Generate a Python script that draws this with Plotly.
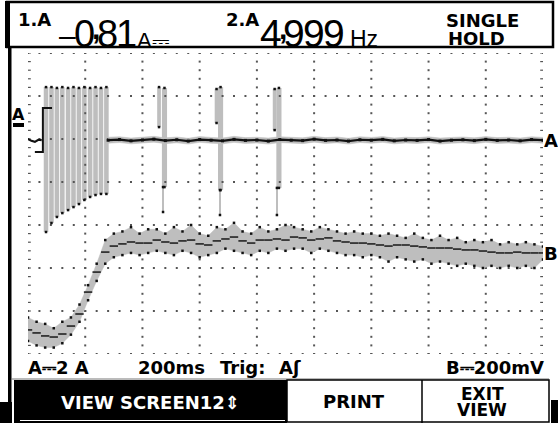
import plotly.graph_objects as go

# ---------------- data ----------------
# time base 200 ms/div, 9 divisions shown
T_MAX = 1800
# Channel A (current, 2 A/div) -- baseline after the burst
a_t = [280 + 40 * k for k in range(39)]
a_mid = [-0.80, -0.77, -0.83, -0.79, -0.75, -0.82, -0.78, -0.84, -0.77, -0.80,
         -0.83, -0.76, -0.81, -0.79, -0.84, -0.77, -0.80, -0.82, -0.75, -0.81,
         -0.79, -0.84, -0.78, -0.80, -0.76, -0.83, -0.79, -0.81, -0.77, -0.84,
         -0.80, -0.78, -0.82, -0.76, -0.81, -0.79, -0.83, -0.77, -0.80]
a_hi = [-0.66, -0.64, -0.70, -0.66, -0.62, -0.69, -0.65, -0.71, -0.63, -0.67,
        -0.70, -0.62, -0.68, -0.66, -0.70, -0.64, -0.67, -0.69, -0.62, -0.68,
        -0.65, -0.71, -0.64, -0.67, -0.63, -0.70, -0.66, -0.68, -0.64, -0.70,
        -0.67, -0.65, -0.69, -0.63, -0.68, -0.66, -0.70, -0.64, -0.67]
a_lo = [-0.94, -0.91, -0.97, -0.92, -0.89, -0.96, -0.92, -0.98, -0.90, -0.94,
        -0.97, -0.90, -0.95, -0.93, -0.98, -0.91, -0.94, -0.96, -0.89, -0.95,
        -0.92, -0.98, -0.91, -0.94, -0.90, -0.97, -0.93, -0.95, -0.91, -0.98,
        -0.94, -0.92, -0.96, -0.90, -0.95, -0.93, -0.97, -0.91, -0.94]
# Channel A before the trigger
a_pre_t = [0, 12, 24, 36, 48]
a_pre = [-0.74, -0.83, -0.88, -0.78, -0.80]
# trigger bracket (ms, A)
trig_t = [24, 52, 52, 84]
trig_a = [-1.35, -1.35, 0.70, 0.70]
# Channel A spikes: centre time (ms), top (A), bottom (A), width (ms)
spk_t = [63, 82, 101, 120, 140, 159, 178, 197, 217, 236, 255, 274,
         458, 477, 472,
         659, 673, 671,
         862, 877, 870]
spk_top = [1.67, 1.67, 1.63, 1.67, 1.63, 1.67, 1.63, 1.67, 1.63, 1.67, 1.63, 1.67,
           1.67, 1.63, -2.98,
           1.58, 1.67, -3.12,
           1.58, 1.63, -3.02]
spk_bot = [-5.07, -4.65, -4.37, -4.19, -4.05, -3.91, -3.77, -3.58, -3.44, -3.35, -3.30, -3.30,
           -0.19, -2.98, -4.14,
           0.00, -3.12, -4.28,
           -0.33, -3.02, -4.28]
spk_w = [16, 16, 16, 16, 16, 16, 16, 16, 16, 16, 16, 16,
         13, 18, 4,
         13, 18, 4,
         13, 18, 4]

# Channel B (200 mV/div), every 30 ms
b_t = [30 * k for k in range(61)]
b_mid = [0.112, 0.098, 0.084, 0.079, 0.093, 0.130, 0.186, 0.288, 0.381, 0.474,
         0.502, 0.512, 0.521, 0.516, 0.516, 0.530, 0.521, 0.516, 0.526, 0.530,
         0.512, 0.507, 0.526, 0.535, 0.544, 0.526, 0.516, 0.530, 0.530, 0.535,
         0.530, 0.544, 0.540, 0.530, 0.535, 0.540, 0.526, 0.521, 0.516, 0.516,
         0.512, 0.507, 0.502, 0.507, 0.507, 0.502, 0.498, 0.493, 0.493, 0.493,
         0.488, 0.484, 0.484, 0.479, 0.474, 0.470, 0.470, 0.474, 0.470, 0.470, 0.470]
b_max = [0.170, 0.150, 0.140, 0.120, 0.150, 0.170, 0.230, 0.320, 0.420, 0.530,
         0.560, 0.570, 0.590, 0.560, 0.580, 0.580, 0.560, 0.590, 0.570, 0.600,
         0.560, 0.550, 0.590, 0.580, 0.610, 0.570, 0.560, 0.590, 0.570, 0.580,
         0.600, 0.590, 0.580, 0.570, 0.590, 0.580, 0.570, 0.560, 0.570, 0.560,
         0.560, 0.550, 0.560, 0.550, 0.540, 0.560, 0.540, 0.530, 0.550, 0.530,
         0.540, 0.520, 0.530, 0.520, 0.530, 0.510, 0.520, 0.510, 0.520, 0.510, 0.500]
b_min = [0.060, 0.040, 0.030, 0.030, 0.050, 0.090, 0.150, 0.250, 0.340, 0.420,
         0.450, 0.460, 0.470, 0.460, 0.470, 0.480, 0.470, 0.460, 0.480, 0.470,
         0.450, 0.460, 0.470, 0.490, 0.480, 0.470, 0.460, 0.480, 0.470, 0.490,
         0.480, 0.490, 0.490, 0.470, 0.490, 0.480, 0.470, 0.460, 0.460, 0.450,
         0.460, 0.450, 0.430, 0.450, 0.440, 0.430, 0.440, 0.420, 0.430, 0.420,
         0.410, 0.420, 0.410, 0.400, 0.410, 0.400, 0.410, 0.400, 0.410, 0.400, 0.440]

# ---------------- scaling to screen divisions ----------------
A_ZERO_DIV = 5.372
A_PER_DIV = 2.0
B_ZERO_DIV = 0.0
B_PER_DIV = 0.2


def a2d(v):
    return None if v is None else A_ZERO_DIV + v / A_PER_DIV


def b2d(v):
    return None if v is None else B_ZERO_DIV + v / B_PER_DIV


n = min(len(b_t), len(b_mid), len(b_max), len(b_min))
b_t, b_mid, b_max, b_min = b_t[:n], b_mid[:n], b_max[:n], b_min[:n]
m = min(len(a_t), len(a_mid), len(a_hi), len(a_lo))
a_t, a_mid, a_hi, a_lo = a_t[:m], a_mid[:m], a_hi[:m], a_lo[:m]

W, H = 558, 423
GRAY = '#bebebe'
INK = '#111111'


def px(x):
    return x / W


def py(y):
    return 1 - y / H


fig = go.Figure()

# ---- graticule dots ----
gx, gy = [], []
for xv in range(200, T_MAX, 200):
    for k in range(36):
        gx.append(xv); gy.append(k / 5)
for yv in range(8):
    for j in range(46):
        gx.append(j * 40); gy.append(yv)
fig.add_trace(go.Scatter(x=gx, y=gy, mode='markers', hoverinfo='skip',
                         marker=dict(symbol='square', size=2, color='#555555', line=dict(width=0))))
ex, ey = [], []
for xv in (0, T_MAX):
    for k in range(36):
        ex.append(xv); ey.append(k / 5)
fig.add_trace(go.Scatter(x=ex, y=ey, mode='markers', hoverinfo='skip',
                         marker=dict(symbol='line-ew', size=4, line=dict(width=1.2, color='#555555'))))

# ---- channel B ----
fig.add_trace(go.Scatter(x=b_t, y=[b2d(v) for v in b_max], mode='lines',
                         line=dict(width=0.5, color=GRAY), hoverinfo='skip'))
fig.add_trace(go.Scatter(x=b_t, y=[b2d(v) for v in b_min], mode='lines', fill='tonexty',
                         fillcolor=GRAY, line=dict(width=0.5, color=GRAY), hoverinfo='skip'))
fig.add_trace(go.Scatter(x=b_t + b_t, y=[b2d(v) for v in b_max] + [b2d(v) for v in b_min],
                         mode='markers', hoverinfo='skip',
                         marker=dict(symbol='square', size=2.5, color=INK, line=dict(width=0))))
fig.add_trace(go.Scatter(x=b_t, y=[b2d(v) for v in b_mid], mode='markers', hoverinfo='skip',
                         marker=dict(symbol='line-ew', size=6, line=dict(width=1.6, color='#222222'))))

# ---- channel A ----
fig.add_trace(go.Bar(x=spk_t, base=[a2d(b) for b in spk_bot],
                     y=[a2d(t) - a2d(b) for t, b in zip(spk_top, spk_bot)],
                     width=spk_w, marker=dict(color=GRAY, line=dict(width=0)), hoverinfo='skip'))
fig.add_trace(go.Scatter(x=spk_t + spk_t, y=[a2d(v) for v in spk_top] + [a2d(v) for v in spk_bot],
                         mode='markers', hoverinfo='skip',
                         marker=dict(symbol='square', size=2.5, color=INK, line=dict(width=0))))
fig.add_trace(go.Scatter(x=a_t, y=[a2d(v) for v in a_hi], mode='lines',
                         line=dict(width=0.5, color=GRAY), hoverinfo='skip'))
fig.add_trace(go.Scatter(x=a_t, y=[a2d(v) for v in a_lo], mode='lines', fill='tonexty',
                         fillcolor=GRAY, line=dict(width=0.5, color=GRAY), hoverinfo='skip'))
fig.add_trace(go.Scatter(x=a_t, y=[a2d(v) for v in a_mid], mode='lines+markers',
                         line=dict(width=2.2, color=INK),
                         marker=dict(symbol='square', size=3, color=INK), hoverinfo='skip'))
fig.add_trace(go.Scatter(x=a_pre_t, y=[a2d(v) for v in a_pre], mode='lines',
                         line=dict(width=2.2, color=INK), hoverinfo='skip'))
fig.add_trace(go.Scatter(x=trig_t, y=[a2d(v) for v in trig_a], mode='lines',
                         line=dict(width=2, color=INK), hoverinfo='skip'))

# ---------------- chrome ----------------
shapes = []


def rect(x0, y0, x1, y1, fill=None, line=None, lw=0):
    shapes.append(dict(type='rect', xref='paper', yref='paper', layer='above',
                       x0=px(x0), x1=px(x1), y0=py(y1), y1=py(y0),
                       fillcolor=fill or 'rgba(0,0,0,0)',
                       line=dict(color=line or 'rgba(0,0,0,0)', width=lw)))


def seg(x0, y0, x1, y1, color='black', lw=1):
    shapes.append(dict(type='line', xref='paper', yref='paper', layer='above',
                       x0=px(x0), x1=px(x1), y0=py(y0), y1=py(y1),
                       line=dict(color=color, width=lw)))


# header box
rect(7, 2, 553, 47, line='black', lw=2.5)
rect(5, 1, 10, 48, fill='black')
# left screen border
rect(8, 46, 11.5, 402, fill='black')
# bottom separators / soft keys
seg(11, 379, 549, 379, color='#777777', lw=1)
rect(14, 380, 287, 423, fill='black')
seg(20, 420.5, 285, 420.5, color='white', lw=1)
rect(0, 402, 12, 423, fill='black')
rect(287, 380, 549, 422, line='black', lw=1.5)
seg(422, 380, 422, 423, color='black', lw=1.5)
rect(551, 400, 558, 423, fill='black')
# channel A zero marker underline
rect(13, 123, 24, 127, fill='black')

anns = []
PIX = 'DejaVu Sans'
LCD = 'Liberation Sans'


def ann(text, x, y, size, family=PIX, color='black', xanchor='left', bold=True):
    anns.append(dict(text=('<b>%s</b>' % text) if bold else text, x=px(x), y=py(y),
                     xref='paper', yref='paper', xanchor=xanchor, yanchor='middle',
                     showarrow=False, font=dict(family=family, size=size, color=color),
                     borderpad=0))


# header readouts
ann('1.A', 17, 19.5, 18)
ann('–', 67, 35, 30, family=LCD, bold=False, xanchor='center')
ann('0', 84, 33.5, 38, family=LCD, bold=False, xanchor='center')
ann('8', 107, 33.5, 38, family=LCD, bold=False, xanchor='center')
ann('1', 126, 33.5, 38, family=LCD, bold=False, xanchor='center')
ann(',', 95.5, 29, 30, family=LCD, bold=True, xanchor='center')
ann('A⎓', 136, 40, 22, family=LCD, bold=False)
ann('2.A', 225, 19.5, 18)
ann('4', 271, 33.5, 39, family=LCD, bold=False, xanchor='center')
ann('9', 294, 33.5, 39, family=LCD, bold=False, xanchor='center')
ann('9', 314, 33.5, 39, family=LCD, bold=False, xanchor='center')
ann('9', 334, 33.5, 39, family=LCD, bold=False, xanchor='center')
ann(',', 282.5, 29, 30, family=LCD, bold=True, xanchor='center')
ann('Hz', 349, 39.5, 23, family=LCD, bold=False)
ann('SINGLE', 445, 21, 18)
ann('HOLD', 447, 38.5, 18)

# trace markers
ann('A', 18.5, 114.5, 16, xanchor='center')
ann('A', 551, 141, 18, xanchor='center')
ann('B', 551, 253, 18, xanchor='center')

# status line
ann('A⎓2 A', 27, 367.5, 18)
ann('200ms', 137, 367.5, 18)
ann('Trig:', 242, 367.5, 18, xanchor='center')
ann('Aʃ', 278, 367.5, 18)
ann('B⎓200mV', 545, 367.5, 18, xanchor='right')

# soft keys
ann('VIEW SCREEN12⇕', 150, 402, 18, color='white', xanchor='center')
ann('PRINT', 354, 401, 18, xanchor='center')
ann('EXIT', 482, 394, 17, xanchor='center')
ann('VIEW', 482, 409.5, 17, xanchor='center')

fig.update_layout(
    width=W, height=H, margin=dict(l=0, r=0, t=0, b=0),
    paper_bgcolor='white', plot_bgcolor='white', showlegend=False,
    barmode='overlay',
    xaxis=dict(range=[0, T_MAX], domain=[px(28), px(543)], visible=False, fixedrange=True),
    yaxis=dict(range=[0, 7], domain=[py(354), py(53)], visible=False, fixedrange=True),
    shapes=shapes, annotations=anns,
)
fig.write_html('out.html', config={'displayModeBar': False},
               post_script="document.body.style.margin='0';document.body.style.padding='0';")
